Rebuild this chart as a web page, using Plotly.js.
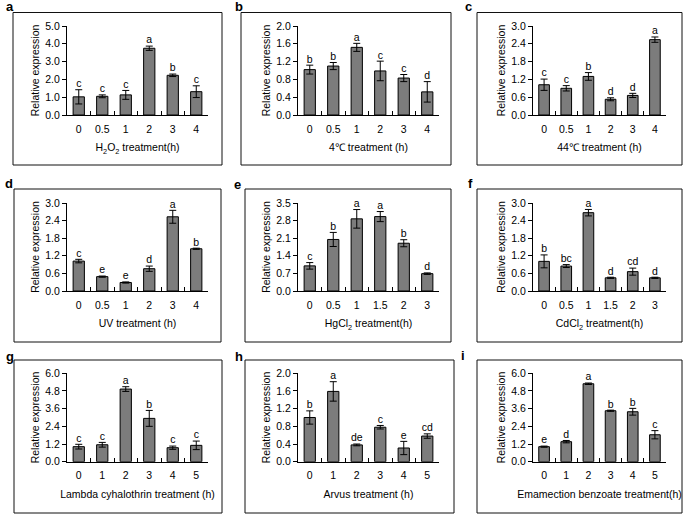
<!DOCTYPE html>
<html>
<head>
<meta charset="utf-8">
<script src="https://cdn.plot.ly/plotly-3.0.1.min.js"></script>
<style>html,body{margin:0;padding:0;background:#fff;}#chart{width:684px;height:514px;}</style>
</head>
<body>
<div id="chart"></div>
<script>
// ---- data ----
const catsA = ['0','0.5','1','2','3','4'];
const valsA = [1.02, 1.05, 1.13, 3.75, 2.23, 1.31];
const errsA = [0.40, 0.08, 0.25, 0.12, 0.07, 0.33];
const sigA  = ['c','c','c','a','b','c'];

const catsB = ['0','0.5','1','2','3','4'];
const valsB = [1.02, 1.10, 1.52, 0.99, 0.83, 0.52];
const errsB = [0.10, 0.08, 0.09, 0.22, 0.08, 0.23];
const sigB  = ['b','b','a','c','c','d'];

const catsC = ['0','0.5','1','2','3','4'];
const valsC = [1.02, 0.90, 1.30, 0.53, 0.66, 2.54];
const errsC = [0.19, 0.09, 0.13, 0.05, 0.07, 0.09];
const sigC  = ['c','c','b','d','d','a'];

const catsD = ['0','0.5','1','2','3','4'];
const valsD = [1.02, 0.49, 0.29, 0.76, 2.53, 1.44];
const errsD = [0.06, 0.02, 0.02, 0.09, 0.22, 0.02];
const sigD  = ['c','e','e','d','a','b'];

const catsE = ['0','0.5','1','1.5','2','3'];
const valsE = [1.00, 2.05, 2.87, 2.96, 1.90, 0.69];
const errsE = [0.13, 0.28, 0.37, 0.20, 0.14, 0.03];
const sigE  = ['c','b','a','a','b','d'];

const catsF = ['0','0.5','1','1.5','2','3'];
const valsF = [1.01, 0.85, 2.67, 0.45, 0.66, 0.45];
const errsF = [0.22, 0.05, 0.11, 0.02, 0.12, 0.02];
const sigF  = ['b','bc','a','d','cd','d'];

const catsG = ['0','1','2','3','4','5'];
const valsG = [1.02, 1.15, 4.93, 2.94, 0.95, 1.11];
const errsG = [0.16, 0.16, 0.16, 0.54, 0.11, 0.29];
const sigG  = ['c','c','a','b','c','c'];

const catsH = ['0','1','2','3','4','5'];
const valsH = [1.00, 1.59, 0.38, 0.78, 0.31, 0.58];
const errsH = [0.15, 0.22, 0.02, 0.04, 0.15, 0.05];
const sigH  = ['b','a','de','c','e','cd'];

const catsI = ['0','1','2','3','4','5'];
const valsI = [1.02, 1.36, 5.29, 3.46, 3.39, 1.83];
const errsI = [0.04, 0.08, 0.05, 0.04, 0.23, 0.28];
const sigI  = ['e','d','a','b','b','c'];

const panelLetters = ['a','b','c','d','e','f','g','h','i'];
const xTitles = [
  'H<sub>2</sub>O<sub>2</sub> treatment(h)',
  '4℃ treatment (h)',
  '44℃ treatment (h)',
  'UV treatment (h)',
  'HgCl<sub>2</sub> treatment(h)',
  'CdCl<sub>2</sub> treatment(h)',
  'Lambda cyhalothrin treatment (h)',
  'Arvus treatment (h)',
  'Emamection benzoate treatment(h)'
];
const yMax   = [5.0, 2.0, 3.0, 3.0, 3.5, 3.0, 6.0, 2.0, 6.0];
const yDtick = [1.0, 0.4, 0.6, 0.6, 0.7, 0.6, 1.2, 0.4, 1.2];

// ---- layout geometry (pixels) ----
const W = 684, H = 514;
const colX = [[67, 208], [298, 439], [533, 666]];
const rowY = [[26, 115], [203, 291], [373.3, 461.7]]; // [top, zero]
const boxes = [
  [13, 222, 12.5, 165], [241, 451, 12.5, 165], [477, 682, 12.5, 165],
  [14, 221, 189, 342], [245, 451, 189, 342], [477, 682, 189, 342],
  [14, 222, 360, 513], [245, 454, 360, 513], [477, 682, 360, 513]
];
const letterPos = [[4,7],[233,7],[463,7],[3,183],[232,184],[466,183],[4,356],[233,356],[459,355]];

const cats = [catsA,catsB,catsC,catsD,catsE,catsF,catsG,catsH,catsI];
const vals = [valsA,valsB,valsC,valsD,valsE,valsF,valsG,valsH,valsI];
const errs = [errsA,errsB,errsC,errsD,errsE,errsF,errsG,errsH,errsI];
const sigs = [sigA,sigB,sigC,sigD,sigE,sigF,sigG,sigH,sigI];

const FONT = 'Liberation Sans, Arial, sans-serif';
const data = [];
const layout = {
  width: W, height: H,
  margin: {l:0, r:0, t:0, b:0},
  paper_bgcolor: '#fff', plot_bgcolor: 'rgba(0,0,0,0)',
  showlegend: false,
  bargap: 0.52,
  font: {family: FONT, size: 10, color: '#000'},
  shapes: [], annotations: []
};

for (let k = 0; k < 9; k++) {
  const r = Math.floor(k / 3), c = k % 3;
  const sfx = k === 0 ? '' : String(k + 1);
  const xa = 'x' + sfx, ya = 'y' + sfx;
  data.push({
    type: 'bar', x: cats[k], y: vals[k], xaxis: xa, yaxis: ya,
    marker: {color: '#7c7c7c', line: {color: '#000', width: 1}},
    error_y: {type: 'data', array: errs[k], visible: true, color: '#000', thickness: 1, width: 3.5},
    hoverinfo: 'skip'
  });
  data.push({
    type: 'scatter', mode: 'text', x: cats[k],
    y: vals[k].map((v, i) => v + errs[k][i]),
    text: sigs[k], textposition: 'top center',
    textfont: {family: FONT, size: 10.5, color: '#000'},
    cliponaxis: false, xaxis: xa, yaxis: ya, hoverinfo: 'skip'
  });
  layout['xaxis' + sfx] = {
    domain: [colX[c][0] / W, colX[c][1] / W],
    anchor: ya, type: 'category',
    range: [-0.5, cats[k].length - 0.5],
    showline: true, linecolor: '#000', linewidth: 1,
    ticks: 'inside', tickson: 'boundaries', ticklen: 4, tickcolor: '#000',
    tickangle: 0,
    showgrid: false, zeroline: false, fixedrange: true,
    tickfont: {family: FONT, size: 10.5, color: '#000'},
    ticklabelstandoff: 4,
    title: {text: xTitles[k], font: {family: FONT, size: 10.5, color: '#000'}, standoff: 10}
  };
  layout['yaxis' + sfx] = {
    domain: [1 - rowY[r][1] / H, 1 - rowY[r][0] / H],
    anchor: xa, range: [0, yMax[k]], dtick: yDtick[k], tick0: 0,
    tickformat: '.1f',
    showline: true, linecolor: '#000', linewidth: 1,
    ticks: 'outside', ticklen: 4, tickcolor: '#000',
    showgrid: false, zeroline: false, fixedrange: true,
    tickfont: {family: FONT, size: 10.5, color: '#000'},
    title: {text: 'Relative expression', font: {family: FONT, size: 10.5, color: '#000'}, standoff: 3}
  };
  const b = boxes[k];
  layout.shapes.push({
    type: 'rect', xref: 'paper', yref: 'paper',
    x0: b[0] / W, x1: b[1] / W, y0: 1 - b[3] / H, y1: 1 - b[2] / H,
    line: {color: '#111', width: 1}
  });
  layout.annotations.push({
    xref: 'paper', yref: 'paper', showarrow: false,
    x: letterPos[k][0] / W, y: 1 - letterPos[k][1] / H,
    xanchor: 'left', yanchor: 'middle',
    text: '<b>' + panelLetters[k] + '</b>',
    font: {family: FONT, size: 13, color: '#000'}
  });
}

Plotly.newPlot('chart', data, layout, {staticPlot: true, displayModeBar: false});
</script>
</body>
</html>
